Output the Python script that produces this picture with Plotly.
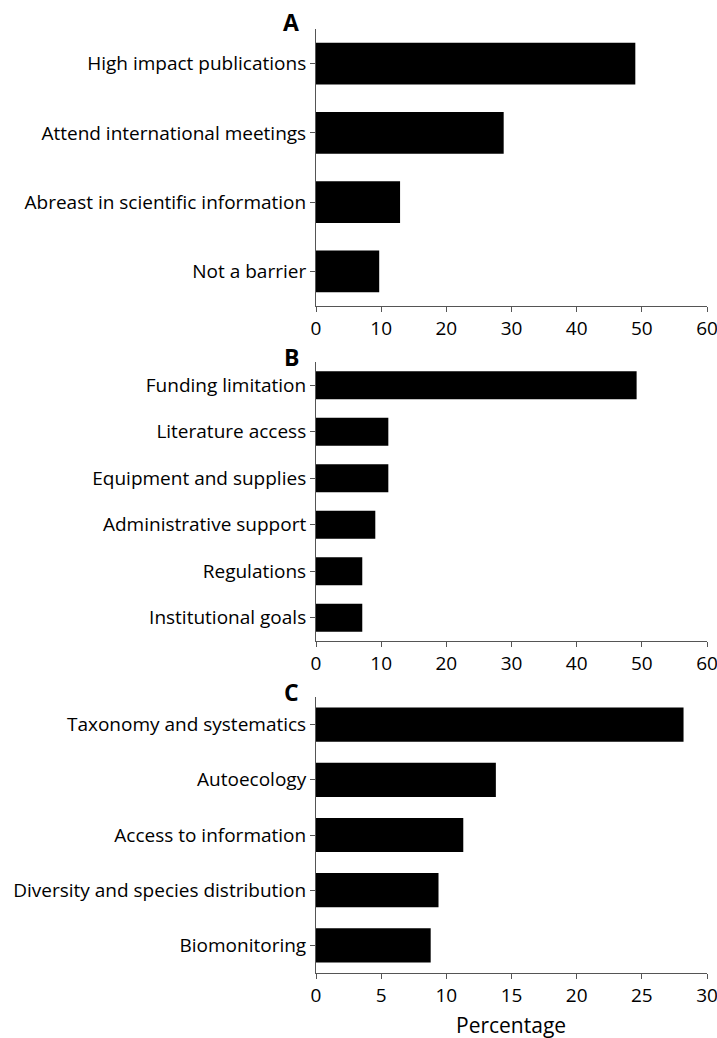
import plotly.graph_objects as go

cats_a = ["High impact publications", "Attend international meetings",
          "Abreast in scientific information", "Not a barrier"]
vals_a = [49.0, 28.8, 12.9, 9.7]

cats_b = ["Funding limitation", "Literature access", "Equipment and supplies",
          "Administrative support", "Regulations", "Institutional goals"]
vals_b = [49.2, 11.1, 11.1, 9.1, 7.1, 7.1]

cats_c = ["Taxonomy and systematics", "Autoecology", "Access to information",
          "Diversity and species distribution", "Biomonitoring"]
vals_c = [28.2, 13.8, 11.3, 9.4, 8.8]

ticks_ab = [0, 10, 20, 30, 40, 50, 60]
ticks_c = [0, 5, 10, 15, 20, 25, 30]

W, H = 717, 1038
FONT = "Open Sans, sans-serif"

def py(px):
    return 1 - px / H

fig = go.Figure()
panels = [
    (cats_a, vals_a, "", 0.6),
    (cats_b, vals_b, "2", 0.6),
    (cats_c, vals_c, "3", 0.62),
]
for cats, vals, sfx, w in panels:
    fig.add_trace(go.Bar(y=cats, x=vals, orientation="h", width=w,
                         marker=dict(color="black", line=dict(width=0)),
                         xaxis="x" + sfx, yaxis="y" + sfx, showlegend=False))

xd = [316 / W, 707 / W]
common_x = dict(domain=xd, showgrid=False, zeroline=False, showline=True,
                linecolor="#555", linewidth=1, ticks="outside", ticklen=5,
                tickcolor="#555", automargin=False, ticklabeloverflow="allow",
                tickfont=dict(size=19, color="black", family=FONT))
common_y = dict(showgrid=False, zeroline=False, showline=True, linecolor="#555",
                linewidth=1, ticks="outside", ticklen=5, tickcolor="#555",
                autorange="reversed", type="category", automargin=False,
                tickfont=dict(size=19, color="black", family=FONT))

fig.update_layout(
    width=W, height=H, margin=dict(l=0, r=0, t=0, b=0),
    plot_bgcolor="white", paper_bgcolor="white",
    font=dict(family=FONT, color="black"),
    xaxis=dict(common_x, range=[0, 60], tickvals=ticks_ab, anchor="y"),
    yaxis=dict(common_y, domain=[py(306), py(29)], anchor="x"),
    xaxis2=dict(common_x, range=[0, 60], tickvals=ticks_ab, anchor="y2"),
    yaxis2=dict(common_y, domain=[py(641), py(362)], anchor="x2"),
    xaxis3=dict(common_x, range=[0, 30], tickvals=ticks_c, anchor="y3"),
    yaxis3=dict(common_y, domain=[py(973), py(697)], anchor="x3"),
)

for label, ypx in [("A", 22), ("B", 357), ("C", 692)]:
    fig.add_annotation(text="<b>" + label + "</b>", xref="paper", yref="paper",
                       x=301 / W, y=py(ypx), xanchor="right", yanchor="middle",
                       showarrow=False, font=dict(size=23, family=FONT, color="black"))

fig.add_annotation(text="Percentage", xref="paper", yref="paper",
                   x=511 / W, y=py(1025), xanchor="center", yanchor="middle",
                   showarrow=False, font=dict(size=21, family=FONT, color="black"))

fig.write_html("out.html", config={"displayModeBar": False},
               post_script="document.body.style.margin='0px';document.body.style.overflow='hidden';")
